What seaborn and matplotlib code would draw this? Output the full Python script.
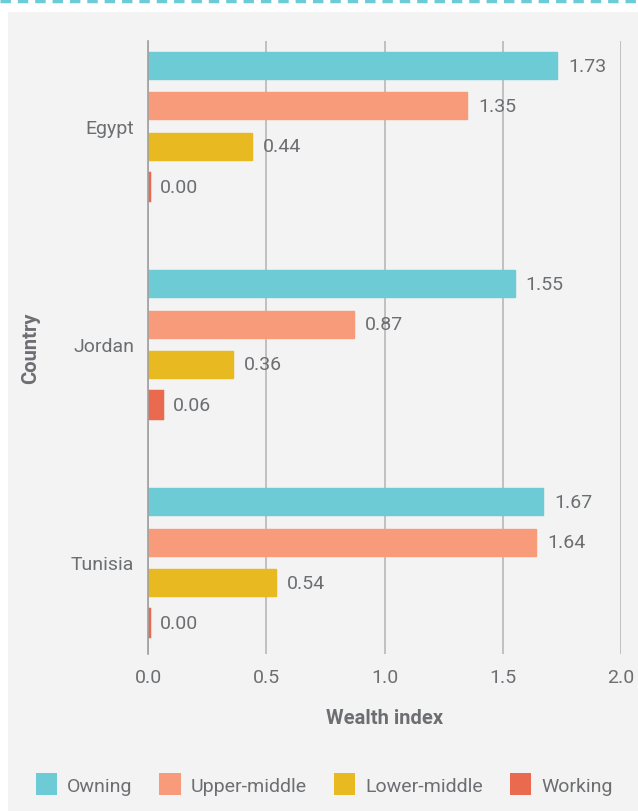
import matplotlib
matplotlib.use("Agg")
import matplotlib.pyplot as plt
import seaborn as sns
import pandas as pd
from matplotlib.patches import Rectangle, Patch
from matplotlib.lines import Line2D

countries = ["Egypt", "Jordan", "Tunisia"]
classes = ["Owning", "Upper-middle", "Lower-middle", "Working"]
owning = [1.73, 1.55, 1.67]
upper_middle = [1.35, 0.87, 1.64]
lower_middle = [0.44, 0.36, 0.54]
working = [0.004, 0.06, 0.004]
colors = ["#6ccbd4", "#f89b7a", "#e8b920", "#ea6a50"]
x_ticks = [0.0, 0.5, 1.0, 1.5, 2.0]

rows = []
for cls, vals in zip(classes, [owning, upper_middle, lower_middle, working]):
    for c, v in zip(countries, vals):
        rows.append({"Country": c, "Class": cls, "Wealth index": v})
df = pd.DataFrame(rows)

sns.set_theme(style="white")
plt.rcParams["font.family"] = ["Roboto", "DejaVu Sans"]
txt = "#6d6e71"
bg = "#f2f3f2"

W, H = 638, 812
fig = plt.figure(figsize=(W / 100, H / 100), dpi=100)
fig.patch.set_facecolor("white")
fig.add_artist(Rectangle((8 / W, 0), 1 - 8 / W, 1 - 13 / H, transform=fig.transFigure,
                         facecolor=bg, edgecolor="none", zorder=-10))
fig.add_artist(Line2D([0, 1], [1 - 1.5 / H, 1 - 1.5 / H], transform=fig.transFigure,
                      color="#6ccbd4", lw=2.5, linestyle=(0, (3, 2))))

ax = fig.add_axes([148 / W, 1 - 655 / H, (621 - 148) / W, (655 - 42) / H])
ax.set_facecolor("none")

sns.barplot(data=df, y="Country", x="Wealth index", hue="Class", orient="h",
            order=countries, hue_order=classes, palette=colors,
            width=0.74, gap=0.33, ax=ax, legend=False, errorbar=None,
            saturation=1, linewidth=1)
for i, (cont, col) in enumerate(zip(ax.containers, colors)):
    for b in cont:
        b.set_edgecolor(col)
        if i == 3:
            b.set_linewidth(2.5)
    ax.bar_label(cont, fmt="%.2f", padding=8, fontsize=14, color=txt)

ax.set_xlim(0, 2.0)
ax.set_ylim(2.42, -0.39)
ax.set_xticks(x_ticks)
ax.set_xticklabels([f"{t:.1f}" for t in x_ticks])
ax.xaxis.grid(True, color="#b8b8b8", lw=1.2)
ax.yaxis.grid(False)
ax.set_axisbelow(True)
for s in ["top", "right", "bottom"]:
    ax.spines[s].set_visible(False)
ax.spines["left"].set_color("#a0a0a0")
ax.spines["left"].set_linewidth(1.2)
ax.tick_params(axis="both", length=0, labelsize=14, labelcolor=txt)
ax.tick_params(axis="x", pad=10)
ax.tick_params(axis="y", pad=10)
ax.set_xlabel("Wealth index", fontsize=14.5, fontweight="bold", color=txt, labelpad=16)
ax.set_ylabel("Country", fontsize=14.5, fontweight="bold", color=txt, labelpad=0)
ax.yaxis.set_label_coords((40 - 148) / (621 - 148), 0.5, transform=ax.transAxes)

handles = [Patch(facecolor=c, edgecolor="none") for c in colors]
fig.legend(handles, classes, loc="center", bbox_to_anchor=(0.508, 1 - 785 / H),
           ncol=4, frameon=False, fontsize=14, labelcolor=txt,
           handlelength=1.1, handleheight=1.3, handletextpad=0.5, columnspacing=1.4)

fig.savefig("out.png", dpi=100, facecolor=fig.get_facecolor())
